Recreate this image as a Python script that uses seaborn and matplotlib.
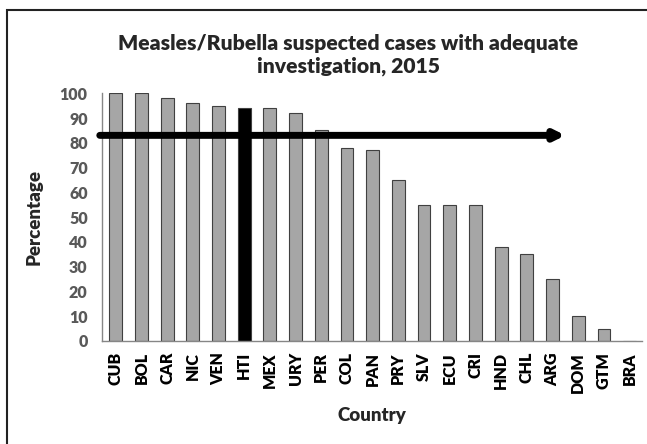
import seaborn as sns
import matplotlib.pyplot as plt
import pandas as pd
from matplotlib.patches import Rectangle

# --- Data ---
countries = ["CUB", "BOL", "CAR", "NIC", "VEN", "HTI", "MEX", "URY", "PER", "COL", "PAN",
             "PRY", "SLV", "ECU", "CRI", "HND", "CHL", "ARG", "DOM", "GTM", "BRA"]
percentages = [100, 100, 98, 96, 95, 94, 94, 92, 85, 78, 77,
               65, 55, 55, 55, 38, 35, 25, 10, 5, 0]
highlight = "HTI"
target = 83  # arrow level

data = pd.DataFrame({"Country": countries, "Percentage": percentages})

# --- Styling ---
sns.set_style("white")
plt.rcParams["font.family"] = ["Lato", "DejaVu Sans"]

palette = {c: ("black" if c == highlight else "#a6a6a6") for c in countries}

fig = plt.figure(figsize=(6.47, 4.44), dpi=100)
ax = fig.add_axes([0.157, 0.232, 0.836, 0.558])

sns.barplot(data=data, x="Country", y="Percentage", hue="Country", palette=palette,
            legend=False, width=0.5, edgecolor="#404040", linewidth=0.8, saturation=1, ax=ax)

ax.set_ylim(0, 100)
ax.set_xlim(-0.55, len(countries) - 0.5)
ax.set_yticks(range(0, 101, 10))
ax.tick_params(axis="y", labelsize=11.5, labelcolor="#595959", length=0, pad=10)
ax.tick_params(axis="x", labelsize=11.5, labelcolor="black", length=0, rotation=90, pad=8)
for lab in ax.get_yticklabels() + ax.get_xticklabels():
    lab.set_fontweight("heavy")

for side in ["top", "right"]:
    ax.spines[side].set_visible(False)
for side in ["left", "bottom"]:
    ax.spines[side].set_color("#868686")
    ax.spines[side].set_linewidth(1)

ax.set_xlabel("Country", fontsize=13.5, fontweight="heavy", labelpad=10)
ax.set_ylabel("Percentage", fontsize=13.5, fontweight="heavy", labelpad=12)
ax.set_title("Measles/Rubella suspected cases with adequate\ninvestigation, 2015",
             fontsize=15.2, fontweight="heavy", pad=15, linespacing=1.2, x=0.456)

# target arrow
ax.annotate("", xy=(17.5, target), xytext=(-0.62, target),
            arrowprops=dict(arrowstyle="-|>", lw=5, color="black", mutation_scale=14,
                            shrinkA=0, shrinkB=0),
            annotation_clip=False)

# chart border (only top/left visible in reference)
fig.patches.append(Rectangle((7 / 647, -0.1), 1.2, 1 - 10 / 444 + 0.1,
                             transform=fig.transFigure, fill=False,
                             edgecolor="#222222", linewidth=1.5))

plt.savefig("out.png", dpi=100)
plt.close()
